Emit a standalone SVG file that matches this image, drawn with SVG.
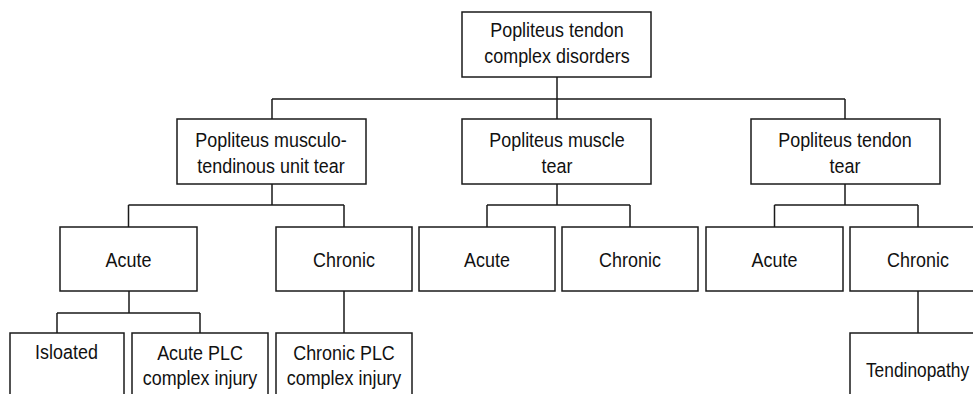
<svg xmlns="http://www.w3.org/2000/svg" width="973" height="394" viewBox="0 0 973 394">
<style>
.box{fill:#fff;stroke:#1a1a1a;stroke-width:1.5}
.ln{fill:none;stroke:#1a1a1a;stroke-width:1.5}
text{font-family:"Liberation Sans",Arial,sans-serif;font-size:19.5px;fill:#111;text-anchor:middle}
</style>
<rect width="973" height="394" fill="#fff"/>
<g id="connectors">
<path class="ln" d="M557 77V119M272 99H845M272 99V119M845 99V119"/>
<path class="ln" d="M272 184V205M128.5 205H344M128.5 205V227M344 205V227"/>
<path class="ln" d="M557 184V205M487 205H630M487 205V227M630 205V227"/>
<path class="ln" d="M845 184V205M774.5 205H918M774.5 205V227M918 205V227"/>
<path class="ln" d="M129 291V313M57 313H200M57 313V333M200 313V333"/>
<path class="ln" d="M344 291V333M918 291V333"/>
</g>
<g id="root"><rect class="box" x="462" y="12" width="189" height="65"/><text transform="translate(557 37) scale(0.92 1)">Popliteus tendon</text><text transform="translate(557 63) scale(0.92 1)">complex disorders</text></g>
<g id="mtu"><rect class="box" x="177" y="119" width="189" height="65"/><text transform="translate(271 147) scale(0.92 1)">Popliteus musculo-</text><text transform="translate(271 173) scale(0.92 1)">tendinous unit tear</text></g>
<g id="muscle"><rect class="box" x="462" y="119" width="189" height="65"/><text transform="translate(557 147) scale(0.92 1)">Popliteus muscle</text><text transform="translate(557 173) scale(0.92 1)">tear</text></g>
<g id="tendon"><rect class="box" x="751" y="119" width="189" height="65"/><text transform="translate(845 147) scale(0.92 1)">Popliteus tendon</text><text transform="translate(845 173) scale(0.92 1)">tear</text></g>
<g id="mtu-acute"><rect class="box" x="60" y="227" width="137" height="64"/><text transform="translate(128.5 267) scale(0.92 1)">Acute</text></g>
<g id="mtu-chronic"><rect class="box" x="276" y="227" width="136" height="64"/><text transform="translate(344 267) scale(0.92 1)">Chronic</text></g>
<g id="muscle-acute"><rect class="box" x="419" y="227" width="136" height="64"/><text transform="translate(487 267) scale(0.92 1)">Acute</text></g>
<g id="muscle-chronic"><rect class="box" x="562" y="227" width="136" height="64"/><text transform="translate(630 267) scale(0.92 1)">Chronic</text></g>
<g id="tendon-acute"><rect class="box" x="706" y="227" width="137" height="64"/><text transform="translate(774.5 267) scale(0.92 1)">Acute</text></g>
<g id="tendon-chronic"><rect class="box" x="850" y="227" width="136" height="64"/><text transform="translate(918 267) scale(0.92 1)">Chronic</text></g>
<g id="isolated"><rect class="box" x="10" y="333" width="114" height="70"/><text transform="translate(66.5 359) scale(0.92 1)">Isloated</text></g>
<g id="acute-plc"><rect class="box" x="132" y="333" width="136" height="70"/><text transform="translate(200 360) scale(0.92 1)">Acute PLC</text><text transform="translate(200 385) scale(0.92 1)">complex injury</text></g>
<g id="chronic-plc"><rect class="box" x="276" y="333" width="136" height="70"/><text transform="translate(344 360) scale(0.92 1)">Chronic PLC</text><text transform="translate(344 385) scale(0.92 1)">complex injury</text></g>
<g id="tendinopathy"><rect class="box" x="850" y="333" width="136" height="70"/><text transform="translate(917.5 377) scale(0.89 1)">Tendinopathy</text></g>
</svg>
